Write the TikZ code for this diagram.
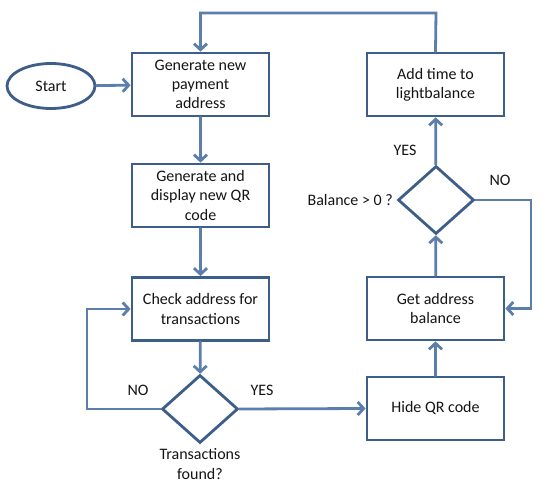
\documentclass[tikz,border=0pt]{standalone}
\usepackage{fontspec}
\setmainfont{Carlito}
\usetikzlibrary{shapes.geometric,arrows.meta}
\definecolor{boxc}{RGB}{62,94,138}
\definecolor{linec}{RGB}{92,126,172}
\definecolor{txtc}{RGB}{20,20,20}
\begin{document}
\begin{tikzpicture}[x=1pt,y=-1pt,
  every node/.style={text=txtc,font=\fontsize{16}{19.3}\selectfont},
  box/.style={draw=boxc,line width=2.8pt,minimum width=137pt,minimum height=63pt,align=center,inner sep=2pt,fill=white},
  ell/.style={draw=boxc,line width=2.8pt,ellipse,minimum width=88pt,minimum height=45pt,inner sep=0pt,fill=white},
  dia/.style={draw=boxc,line width=2.8pt,diamond,minimum width=76pt,minimum height=68pt,inner sep=0pt,fill=white},
  conn/.style={draw=linec,line width=2.8pt,line cap=round},
  arr/.style={conn,-{Straight Barb[length=6pt,width=13pt]}},
  lbl/.style={inner sep=0pt}]
\useasboundingbox (0,0) rectangle (547,489);
\node[ell] (start) at (51,86) {Start};
\node[box] (gen) at (200.5,84.5) {Generate new\\payment\\address};
\node[box] (qr) at (200.5,195.5) {Generate and\\display new QR\\code};
\node[box] (chk) at (200.5,309) {Check address for\\transactions};
\node[dia] (d1) at (200,409) {};
\node[lbl,align=center] (d1t) at (200,464) {Transactions\\found?};
\node[box] (hide) at (435.5,408.5) {Hide QR code};
\node[box] (get) at (435.5,308.5) {Get address\\balance};
\node[dia] (d2) at (436,200) {};
\node[lbl,anchor=east] (d2t) at (393,200) {Balance > 0 ?};
\node[box] (add) at (435.5,84.5) {Add time to\\lightbalance};
\coordinate (cL) at (87,409);
\coordinate (cR) at (531,200);
\coordinate (cT) at (436,13);
\draw[arr] (start) -- (gen);
\draw[arr] (gen) -- (qr);
\draw[arr] (qr) -- (chk);
\draw[arr] (chk) -- (d1);
\draw[arr] (d1.west) -- (cL) |- (chk.west);
\draw[arr] (d1.east) -- (hide.west);
\draw[arr] (hide) -- (get);
\draw[arr] (get) -- (d2);
\draw[arr] (d2) -- (add);
\draw[arr] (d2.east) -- (cR) |- (get.east);
\draw[arr] (add.north) -- (cT) -| (gen.north);
\node[lbl] (no1) at (138,390) {NO};
\node[lbl] (yes1) at (262,390) {YES};
\node[lbl] (yes2) at (405,150) {YES};
\node[lbl] (no2) at (500,180) {NO};
\end{tikzpicture}
\end{document}
